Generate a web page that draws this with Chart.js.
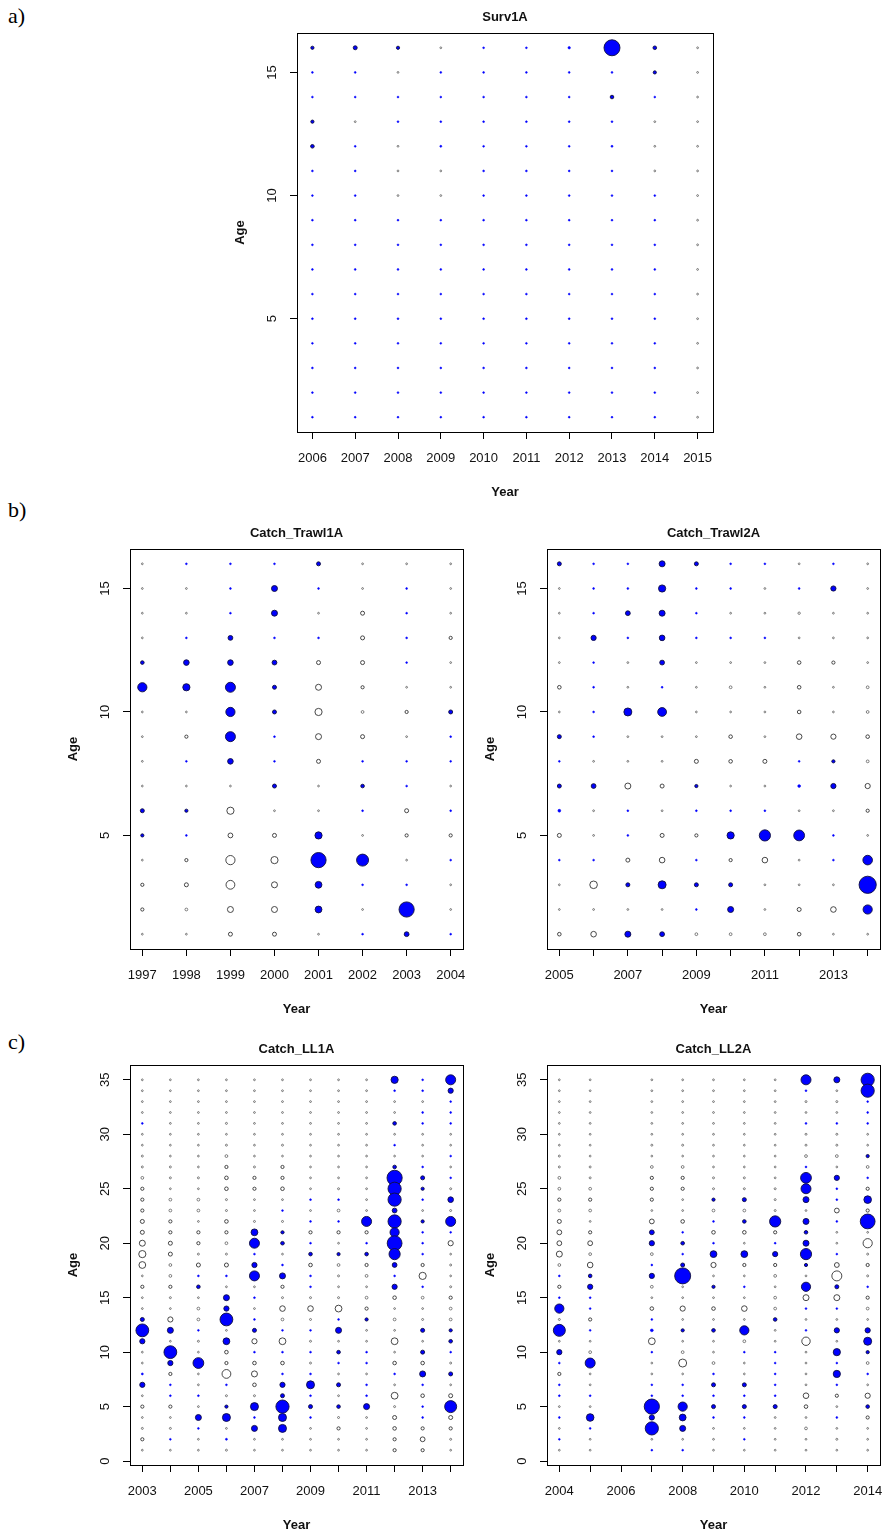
<!DOCTYPE html>
<html>
<head>
<meta charset="utf-8">
<script src="https://cdn.jsdelivr.net/npm/chart.js@4.4.1/dist/chart.umd.min.js"></script>
<style>
  body { margin: 0; background: #fff; }
  #page { position: relative; width: 885px; height: 1538px; overflow: hidden; }
  canvas { position: absolute; }
  .tag { position: absolute; left: 8px; font: 22px "Liberation Serif", "Times New Roman", serif; color: #000; }
</style>
</head>
<body>
<div id="page">
  <div class="tag" style="top:3px">a)</div>
  <div class="tag" style="top:497px">b)</div>
  <div class="tag" style="top:1029px">c)</div>
  <canvas id="survChart" width="530" height="510" style="left:200px;top:0px"></canvas>
  <canvas id="trawl1Chart" width="475" height="540" style="left:0px;top:500px"></canvas>
  <canvas id="trawl2Chart" width="410" height="540" style="left:475px;top:500px"></canvas>
  <canvas id="ll1Chart" width="475" height="498" style="left:0px;top:1040px"></canvas>
  <canvas id="ll2Chart" width="410" height="498" style="left:475px;top:1040px"></canvas>
</div>
<script>
// residuals per age row (top age first), one value per year
const survYears = [2006, 2007, 2008, 2009, 2010, 2011, 2012, 2013, 2014, 2015];
const survAges = [16, 15, 14, 13, 12, 11, 10, 9, 8, 7, 6, 5, 4, 3, 2, 1];
const survResid = [
  [0.8, 1.0, 0.8, -0.4, 0.4, 0.4, 0.6, 4.0, 0.9, -0.4],
  [0.4, 0.4, -0.4, 0.4, 0.4, 0.4, 0.4, 0.4, 0.8, -0.4],
  [0.4, 0.4, 0.4, 0.4, 0.4, 0.4, 0.4, 0.9, 0.4, -0.4],
  [0.8, -0.4, 0.4, 0.4, 0.4, 0.4, 0.4, 0.4, -0.4, -0.4],
  [0.9, 0.4, -0.4, 0.5, 0.4, 0.4, 0.4, 0.5, -0.4, -0.4],
  [0.4, 0.4, -0.4, -0.4, 0.4, 0.4, 0.4, 0.4, -0.4, -0.4],
  [0.4, 0.4, -0.4, -0.4, 0.4, 0.4, 0.4, 0.4, 0.4, -0.4],
  [0.4, 0.4, 0.4, 0.4, 0.4, 0.4, 0.4, 0.4, 0.4, -0.4],
  [0.4, 0.4, 0.4, 0.4, 0.4, 0.4, 0.4, 0.4, 0.4, -0.4],
  [0.4, 0.4, 0.4, 0.4, 0.4, 0.4, 0.4, 0.4, 0.4, -0.4],
  [0.4, 0.4, 0.4, 0.4, 0.4, 0.4, 0.4, 0.4, 0.4, -0.4],
  [0.4, 0.4, 0.4, 0.4, 0.4, 0.4, 0.4, 0.4, 0.4, -0.4],
  [0.4, 0.4, 0.4, 0.4, 0.4, 0.4, 0.4, 0.4, 0.4, -0.4],
  [0.4, 0.4, 0.4, 0.4, 0.4, 0.4, 0.4, 0.4, 0.4, -0.4],
  [0.4, 0.4, 0.4, 0.4, 0.4, 0.4, 0.4, 0.4, 0.4, -0.4],
  [0.4, 0.4, 0.4, 0.4, 0.4, 0.4, 0.4, 0.4, 0.4, -0.4]
];

const trawl1Years = [1997, 1998, 1999, 2000, 2001, 2002, 2003, 2004];
const trawlAges = [16, 15, 14, 13, 12, 11, 10, 9, 8, 7, 6, 5, 4, 3, 2, 1];
const trawl1Resid = [
  [-0.4, 0.4, 0.4, 0.4, 1.0, -0.4, -0.4, -0.4],
  [-0.4, -0.4, 0.4, 1.5, 0.4, -0.4, 0.4, -0.4],
  [-0.4, -0.4, 0.4, 1.5, -0.4, -1.0, 0.4, -0.4],
  [-0.4, 0.4, 1.2, 0.4, 0.4, -1.0, 0.4, -0.8],
  [0.9, 1.4, 1.4, 1.2, -1.0, -1.0, 0.4, -0.4],
  [2.3, 1.8, 2.5, 1.0, -1.5, -0.8, -0.4, -0.4],
  [-0.4, -0.4, 2.3, 1.0, -1.8, -0.7, -0.8, 1.0],
  [-0.4, -0.8, 2.5, 0.4, -1.5, -1.0, -0.4, 0.4],
  [-0.4, 0.4, 1.4, 0.4, -1.0, 0.4, 0.4, 0.4],
  [-0.4, -0.4, -0.4, 1.0, -0.4, 0.9, 0.4, -0.4],
  [1.0, 0.8, -1.8, -0.4, -0.4, 0.4, -1.0, 0.4],
  [0.8, 0.4, -1.2, -1.0, 1.8, -0.4, -0.8, -0.8],
  [-0.4, -0.8, -2.3, -1.8, 3.8, 3.0, -0.4, 0.4],
  [-0.8, -1.0, -2.2, -1.5, 1.7, 0.4, 0.4, -0.4],
  [-0.8, -0.7, -1.5, -1.5, 1.7, -0.4, 3.8, -0.4],
  [-0.4, -0.4, -1.0, -1.0, -0.4, 0.4, 1.2, 0.4]
];

const trawl2Years = [2005, 2006, 2007, 2008, 2009, 2010, 2011, 2012, 2013, 2014];
const trawl2Resid = [
  [1.0, 0.4, 0.4, 1.5, 1.0, 0.4, 0.4, -0.4, 0.4, -0.4],
  [-0.4, 0.4, 0.4, 1.8, 0.4, 0.4, -0.4, 0.4, 1.3, -0.4],
  [-0.4, 0.4, 1.2, 1.5, 0.4, -0.4, -0.4, -0.6, -0.4, -0.4],
  [-0.4, 1.3, 0.4, 1.4, 0.4, 0.4, 0.4, -0.4, -0.4, -0.4],
  [-0.4, 0.4, -0.4, 1.2, -0.4, -0.4, -0.4, -0.9, -0.8, -0.4],
  [-0.9, 0.4, -0.4, 0.4, -0.4, -0.7, -0.4, -0.9, -0.4, -0.7],
  [-0.4, 0.4, 2.0, 2.2, -0.4, -0.4, -0.4, -0.9, -0.4, -0.7],
  [1.0, 0.4, -0.4, -0.4, -0.4, -0.9, -0.4, -1.4, -1.3, -0.9],
  [0.4, -0.4, -0.4, -0.4, -1.0, -0.9, -1.0, 0.4, 0.8, -0.7],
  [1.0, 1.2, -1.5, -1.0, 0.8, -0.4, -0.4, 0.7, 1.3, -1.3],
  [0.7, -0.4, 0.4, -0.4, 0.4, 0.4, 0.4, -0.4, -0.4, -0.8],
  [-1.0, -0.4, 0.4, -1.0, -0.8, 1.8, 2.8, 2.7, 0.4, -0.4],
  [0.4, 0.4, -1.0, -1.4, 0.4, -0.8, -1.4, -0.4, 0.4, 2.4],
  [-0.4, -1.9, 1.0, 2.0, 1.0, 1.0, -0.4, -0.4, -0.4, 4.3],
  [-0.4, -0.4, -0.4, -0.4, 0.4, 1.5, -0.4, -1.0, -1.4, 2.3],
  [-0.9, -1.4, 1.5, 1.2, -0.7, -0.7, -0.7, -0.9, -0.4, -0.4]
];

const ll1Years = [2003, 2004, 2005, 2006, 2007, 2008, 2009, 2010, 2011, 2012, 2013, 2014];
const llAges = [35, 34, 33, 32, 31, 30, 29, 28, 27, 26, 25, 24, 23, 22, 21, 20, 19, 18,
  17, 16, 15, 14, 13, 12, 11, 10, 9, 8, 7, 6, 5, 4, 3, 2, 1];
const ll1Resid = [
  [-0.4, -0.4, -0.4, -0.4, -0.4, -0.4, -0.4, -0.4, -0.4, 1.8, 0.4, 2.5],
  [-0.4, -0.4, -0.4, -0.4, -0.4, -0.4, -0.4, -0.4, -0.4, 0.4, 0.4, 1.3],
  [-0.4, -0.4, -0.4, -0.4, -0.4, -0.4, -0.4, -0.4, -0.4, -0.4, -0.4, 0.4],
  [-0.4, -0.4, -0.4, -0.4, -0.4, -0.4, -0.4, -0.4, -0.4, -0.4, 0.4, 0.4],
  [0.4, -0.4, -0.4, -0.5, -0.4, -0.4, -0.4, -0.4, -0.4, 0.9, 0.4, 0.4],
  [-0.4, -0.4, -0.4, -0.4, -0.4, -0.4, -0.4, -0.4, -0.4, -0.4, -0.4, -0.4],
  [-0.4, -0.4, -0.4, -0.5, -0.4, -0.5, -0.4, -0.4, -0.4, 0.4, -0.4, -0.4],
  [-0.5, -0.4, -0.4, -0.7, -0.4, -0.4, -0.4, -0.4, -0.4, -0.4, -0.4, 0.4],
  [-0.5, -0.5, -0.4, -0.8, -0.5, -0.8, -0.4, -0.4, -0.4, 0.9, 0.4, -0.4],
  [-0.7, -0.5, -0.5, -0.9, -0.8, -0.8, -0.4, -0.4, -0.4, 3.8, 1.0, 0.4],
  [-0.8, -0.4, -0.4, -0.9, -0.8, -0.9, -0.4, -0.5, -0.4, 3.3, 0.8, -0.5],
  [-0.8, -0.7, -0.7, -0.5, -0.4, -0.4, 0.4, 0.4, -0.4, 3.3, 0.4, 1.4],
  [-0.8, -0.7, -0.7, -0.5, -0.4, 0.4, -0.4, -0.7, -0.4, 1.2, -0.4, -0.5],
  [-1.0, -0.8, -0.4, -0.9, -0.5, -0.5, 0.4, 0.4, 2.5, 3.3, 0.8, 2.5],
  [-1.0, -0.8, -0.8, -0.8, 1.7, 0.8, -0.8, -0.8, -0.8, 2.3, 0.4, 0.4],
  [-1.5, -1.0, -0.8, -0.7, 2.5, 0.9, 0.4, -0.4, 0.4, 3.7, 0.4, -1.3],
  [-1.8, -1.0, -0.5, -0.5, 0.4, -0.4, 0.9, 0.8, 0.9, 2.8, 0.4, -0.4],
  [-1.7, -0.7, -1.0, -1.0, 1.3, 0.4, -0.9, -0.7, -0.8, 1.2, -0.8, -0.5],
  [-0.4, -0.7, 0.4, 0.4, 2.5, 1.5, 0.4, -0.5, -0.7, 0.4, -1.8, -0.4],
  [-0.8, -0.8, 0.9, -0.4, -0.4, -0.8, 0.4, -0.4, -0.4, 1.3, 0.4, -0.5],
  [-0.4, -0.5, -0.4, 1.5, 0.4, -0.5, -0.5, -0.5, -0.7, -0.9, -0.7, -0.8],
  [-0.4, -0.4, -0.7, 1.3, -0.4, -1.4, -1.4, -1.7, -0.8, -0.4, -0.4, -0.7],
  [1.0, -1.3, -0.7, 3.2, 0.4, -0.7, -0.5, 0.4, 0.8, -0.7, -0.5, -0.7],
  [3.2, 1.5, 0.4, -0.4, 1.0, 0.4, 0.4, 1.5, -0.4, -0.4, 1.0, 0.8],
  [1.3, -0.4, -0.5, 1.7, -1.3, -1.7, -0.5, -0.4, -0.4, -1.7, -0.4, 0.9],
  [-0.4, 3.2, -0.4, -0.9, 0.4, 0.4, 0.4, 0.9, 0.4, -0.4, 1.0, 0.4],
  [-0.4, 1.3, 2.7, -0.8, -0.9, -0.9, -0.5, 0.4, 0.4, -0.9, -0.9, -0.5],
  [0.5, -0.8, -0.4, -2.2, -1.5, 0.4, 0.4, -0.4, -0.4, 0.4, 1.5, 1.0],
  [1.3, 0.4, -0.4, 0.4, -0.9, 1.3, 2.0, 1.0, 0.4, -0.4, 0.4, -0.4],
  [-0.4, 0.4, 0.4, -0.5, -0.5, 1.0, 0.4, -0.4, 0.4, -1.7, -0.9, -1.0],
  [-0.8, -0.8, -0.4, 0.8, 2.0, 3.3, 1.0, 0.9, 1.5, -0.5, 0.4, 3.0],
  [-0.4, -0.4, 1.5, 2.0, 0.4, 2.0, 0.4, -0.5, -0.4, -1.0, 0.4, -1.0],
  [-0.5, -0.5, 0.4, -0.4, 1.5, 2.0, -0.4, -0.8, -0.4, -0.9, -0.8, -0.8],
  [-0.8, 0.4, -0.4, 0.5, -0.4, -0.4, -0.4, -0.4, -0.4, -0.8, -1.2, -0.5],
  [-0.4, -0.4, -0.4, -0.5, -0.4, -0.4, -0.4, -0.4, -0.4, -0.8, -0.8, -0.4]
];

// no 2006 data in LL2A
const ll2Years = [2004, 2005, 2007, 2008, 2009, 2010, 2011, 2012, 2013, 2014];
const ll2Resid = [
  [-0.4, -0.4, -0.4, -0.4, -0.4, -0.4, -0.4, 2.5, 1.5, 3.3],
  [-0.4, -0.4, -0.4, -0.4, -0.4, -0.4, -0.4, 0.4, -0.4, 3.3],
  [-0.4, -0.4, -0.4, -0.4, -0.4, -0.4, -0.4, -0.5, -0.5, 0.4],
  [-0.4, -0.4, -0.4, -0.4, -0.4, -0.4, -0.4, -0.4, -0.4, 0.4],
  [-0.4, -0.4, -0.4, -0.4, -0.4, -0.4, -0.4, 0.4, 0.4, 0.4],
  [-0.4, -0.4, -0.4, -0.4, -0.4, -0.4, -0.4, -0.5, -0.5, -0.4],
  [-0.4, -0.4, -0.5, -0.5, -0.4, -0.4, -0.4, -0.5, -0.5, -0.4],
  [-0.5, -0.4, -0.4, -0.4, -0.4, -0.4, -0.4, -0.7, -0.7, 0.8],
  [-0.5, -0.5, -0.7, -0.7, -0.4, -0.4, -0.4, 0.4, -0.4, -0.7],
  [-0.7, -0.5, -0.8, -0.8, -0.5, -0.5, -0.4, 2.7, 1.3, 0.4],
  [-0.7, -0.7, -0.8, -0.8, -0.5, -0.5, -0.5, 2.5, 0.4, -0.8],
  [-0.8, -0.8, -0.8, -0.4, 0.8, 1.0, -0.5, 1.5, 0.4, 1.9],
  [-0.7, -0.7, -0.4, -0.4, -0.7, -0.7, -0.5, -0.4, -1.2, -0.8],
  [-1.0, -0.4, -1.2, -0.9, 0.4, 0.9, 2.8, 1.5, 0.4, 3.7],
  [-1.2, -0.8, 1.2, 0.4, -0.9, -0.9, -0.8, 0.9, -0.4, -0.4],
  [-1.2, -1.2, 1.3, 0.9, 0.4, -0.4, 0.4, 1.5, -0.4, -2.3],
  [-1.5, -0.7, -0.7, 0.4, 1.7, 1.7, 1.3, 2.8, 0.4, -0.5],
  [-0.7, -1.4, 0.4, 1.0, -1.3, -0.8, -0.8, 0.8, -1.2, -0.8],
  [0.4, 0.9, 1.3, 4.0, -0.4, -0.4, -0.7, -0.4, -2.5, -0.5],
  [-0.8, 1.3, -0.7, -0.4, 0.8, 0.4, -0.4, 2.3, 1.0, 0.4],
  [0.4, 0.4, -0.4, -0.4, -0.4, -0.4, -0.7, -1.5, -1.5, -0.8],
  [2.3, 0.4, -0.9, -1.3, -0.9, -1.4, -0.7, 0.4, 0.4, -0.7],
  [-0.5, -0.8, 0.4, -0.4, -0.4, -0.4, 0.9, -0.4, -0.4, -0.4],
  [3.0, 0.4, 0.7, 0.8, 0.9, 2.3, -0.4, 0.4, 1.3, 1.3],
  [-0.4, -0.4, -1.7, -0.4, -0.4, -0.7, -0.4, -2.1, -0.4, 2.0],
  [1.3, -0.7, 0.4, -0.7, -0.4, 0.4, 0.4, -0.4, 1.8, 0.8],
  [0.4, 2.5, -0.4, -2.0, -0.7, -0.4, 0.4, -0.4, 0.4, -0.7],
  [-0.8, -0.4, -0.4, -0.4, 0.4, -0.4, 0.4, -0.4, 1.8, 0.4],
  [0.4, -0.4, 0.4, 0.4, 1.0, 1.0, 0.4, -0.4, 0.4, -0.4],
  [0.4, 0.4, 0.4, 0.4, 0.4, 0.4, 0.4, -1.4, -0.8, -1.3],
  [-0.4, -0.4, 3.8, 2.3, 1.0, 1.0, 1.0, -0.9, -0.4, 0.9],
  [0.4, 1.9, 1.3, 1.7, 0.4, 0.4, -0.4, -0.4, 0.4, -0.8],
  [-0.4, 0.4, 3.3, 1.5, -0.4, -0.4, -0.4, -0.7, -0.4, -0.4],
  [0.4, -0.4, -0.4, -0.4, -0.4, 0.4, -0.4, -0.4, -0.5, -0.4],
  [-0.4, -0.4, 0.4, 0.4, -0.4, -0.4, -0.4, -0.4, -0.4, -0.4]
];

// tick positions and labels
const survXTicks = [2006, 2007, 2008, 2009, 2010, 2011, 2012, 2013, 2014, 2015];
const trawl1XTicks = [1997, 1998, 1999, 2000, 2001, 2002, 2003, 2004];
const trawl2XTicks = [2005, 2006, 2007, 2008, 2009, 2010, 2011, 2012, 2013, 2014];
const trawl2XLabels = [2005, 2007, 2009, 2011, 2013];
const ll1XTicks = [2003, 2004, 2005, 2006, 2007, 2008, 2009, 2010, 2011, 2012, 2013, 2014];
const ll1XLabels = [2003, 2005, 2007, 2009, 2011, 2013];
const ll2XTicks = [2004, 2005, 2006, 2007, 2008, 2009, 2010, 2011, 2012, 2013, 2014];
const ll2XLabels = [2004, 2006, 2008, 2010, 2012, 2014];
const ageTicks16 = [5, 10, 15];
const ageTicks35 = [0, 5, 10, 15, 20, 25, 30, 35];

const FONT = '"Liberation Sans", Arial, Helvetica, sans-serif';
const BLUE = '#0000ff';

// frame, title, axis titles and tick labels the way R draws them
const rFrame = {
    id: 'rFrame',
    afterDatasetsDraw(chart, args, opts) {
        const { ctx, chartArea: a, scales } = chart;
        ctx.save();
        ctx.strokeStyle = '#000';
        ctx.lineWidth = 1;
        ctx.strokeRect(Math.round(a.left) + 0.5, Math.round(a.top) + 0.5,
            Math.round(a.right - a.left), Math.round(a.bottom - a.top));
        ctx.fillStyle = '#111';
        ctx.textAlign = 'center';
        ctx.textBaseline = 'middle';
        ctx.font = 'bold 13px ' + FONT;
        const midX = (a.left + a.right) / 2;
        const midY = (a.top + a.bottom) / 2;
        ctx.fillText(opts.title, midX, a.top - 16);
        ctx.fillText('Year', midX, a.bottom + 60);
        ctx.save();
        ctx.translate(a.left - 57, midY);
        ctx.rotate(-Math.PI / 2);
        ctx.fillText('Age', 0, 0);
        ctx.restore();

        ctx.font = '13px ' + FONT;
        opts.xLabels.forEach(v => {
            ctx.fillText(String(v), scales.x.getPixelForValue(v), a.bottom + 26);
        });
        opts.yLabels.forEach(v => {
            ctx.save();
            ctx.translate(a.left - 25, scales.y.getPixelForValue(v));
            ctx.rotate(-Math.PI / 2);
            ctx.fillText(String(v), 0, 0);
            ctx.restore();
        });
        ctx.restore();
    }
};

function makePanel(id, p) {
    const points = [];
    p.ages.forEach((age, i) => {
        p.years.forEach((yr, j) => {
            points.push({ x: yr, y: age, v: p.resid[i][j] });
        });
    });
    const xExt = (p.xTicks[p.xTicks.length - 1] - p.xTicks[0]) * 0.04;
    const yLo = Math.min(...p.ages), yHi = Math.max(...p.ages);
    const yExt = (yHi - yLo) * 0.04;
    const rad = ctx => Math.max(0.9, 2 * Math.abs(ctx.raw.v));

    return new Chart(document.getElementById(id), {
        type: 'bubble',
        data: {
            datasets: [{
                data: points,
                radius: rad,
                backgroundColor: ctx => ctx.raw.v > 0 ? BLUE : '#fff',
                borderColor: ctx => ctx.raw.v > 0 ? (rad(ctx) < 1.6 ? BLUE : '#101040') : '#333',
                borderWidth: ctx => rad(ctx) < 1.6 ? 0.6 : 0.9
            }]
        },
        options: {
            responsive: false,
            animation: false,
            events: [],
            layout: { autoPadding: false, padding: { top: p.padTop, right: p.padRight, left: 0, bottom: 0 } },
            plugins: {
                legend: { display: false },
                tooltip: { enabled: false },
                rFrame: { title: p.title, xLabels: p.xLabels, yLabels: p.yTicks }
            },
            scales: {
                x: {
                    type: 'linear',
                    min: p.xTicks[0] - xExt,
                    max: p.xTicks[p.xTicks.length - 1] + xExt,
                    afterBuildTicks: s => { s.ticks = p.xTicks.map(v => ({ value: v })); },
                    afterFit: s => { s.height = p.xHeight; },
                    ticks: { display: false },
                    border: { display: false },
                    grid: { drawOnChartArea: false, drawTicks: true, tickLength: 7, color: '#000', lineWidth: 1 }
                },
                y: {
                    type: 'linear',
                    min: yLo - yExt,
                    max: yHi + yExt,
                    afterBuildTicks: s => { s.ticks = p.yTicks.map(v => ({ value: v })); },
                    afterFit: s => { s.width = p.yWidth; },
                    ticks: { display: false },
                    border: { display: false },
                    grid: { drawOnChartArea: false, drawTicks: true, tickLength: 7, color: '#000', lineWidth: 1 }
                }
            }
        },
        plugins: [rFrame]
    });
}

makePanel('survChart', {
    title: 'Surv1A', years: survYears, ages: survAges, resid: survResid,
    xTicks: survXTicks, xLabels: survXTicks, yTicks: ageTicks16,
    yWidth: 97, padTop: 33, padRight: 17, xHeight: 78
});
makePanel('trawl1Chart', {
    title: 'Catch_Trawl1A', years: trawl1Years, ages: trawlAges, resid: trawl1Resid,
    xTicks: trawl1XTicks, xLabels: trawl1XTicks, yTicks: ageTicks16,
    yWidth: 130, padTop: 49, padRight: 12, xHeight: 91
});
makePanel('trawl2Chart', {
    title: 'Catch_Trawl2A', years: trawl2Years, ages: trawlAges, resid: trawl2Resid,
    xTicks: trawl2XTicks, xLabels: trawl2XLabels, yTicks: ageTicks16,
    yWidth: 72, padTop: 49, padRight: 5, xHeight: 91
});
makePanel('ll1Chart', {
    title: 'Catch_LL1A', years: ll1Years, ages: llAges, resid: ll1Resid,
    xTicks: ll1XTicks, xLabels: ll1XLabels, yTicks: ageTicks35,
    yWidth: 130, padTop: 25, padRight: 12, xHeight: 73
});
makePanel('ll2Chart', {
    title: 'Catch_LL2A', years: ll2Years, ages: llAges, resid: ll2Resid,
    xTicks: ll2XTicks, xLabels: ll2XLabels, yTicks: ageTicks35,
    yWidth: 72, padTop: 25, padRight: 5, xHeight: 73
});
</script>
</body>
</html>
